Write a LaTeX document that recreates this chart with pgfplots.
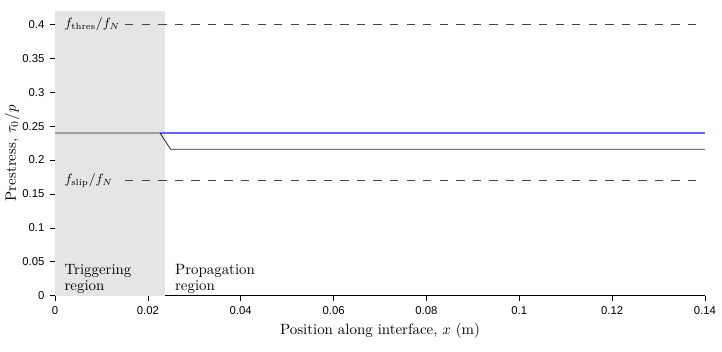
\documentclass[border=0pt]{standalone}
\usepackage{fontspec}
\setsansfont{Liberation Sans}
\usepackage{pgfplots}
\pgfplotsset{compat=1.18}
\definecolor{shade}{RGB}{229,229,229}
\definecolor{myblue}{RGB}{100,100,255}
\definecolor{dashgray}{RGB}{68,68,68}
\begin{document}
\begin{tikzpicture}
\begin{axis}[
  name=main,
  scale only axis,
  width=435.8pt, height=190.8pt,
  xmin=0, xmax=0.14, ymin=0, ymax=0.42,
  axis lines=left,
  axis line style={-},
  y axis line style={gray},
  xtick={0,0.02,0.04,0.06,0.08,0.1,0.12,0.14},
  ytick={0,0.05,0.1,0.15,0.2,0.25,0.3,0.35,0.4},
  xticklabels={0,0.02,0.04,0.06,0.08,0.1,0.12,0.14},
  yticklabels={0,0.05,0.1,0.15,0.2,0.25,0.3,0.35,0.4},
  tick align=outside,
  major tick length=3.6pt,
  tick style={black, line width=0.4pt},
  tick label style={font=\sffamily\fontsize{7.6}{9}\selectfont},
  xlabel={Position along interface, $x$ (m)},
  ylabel={Prestress, $\tau_0/p$},
  xlabel style={yshift=1pt},
  ylabel style={yshift=-5pt},
  clip=false,
]
\addplot[fill=shade, draw=none] coordinates {(0,0) (0.0237,0) (0.0237,0.42) (0,0.42)} -- cycle;
\addplot[dashgray, dash pattern=on 5.55pt off 5.55pt, line width=0.5pt] coordinates {(0.0151,0.4) (0.139,0.4)};
\addplot[dashgray, dash pattern=on 5.55pt off 5.55pt, line width=0.5pt] coordinates {(0.0151,0.17) (0.139,0.17)};
\addplot[draw=myblue, color=myblue, line width=0.7pt] coordinates {(0.0226,0.24) (0.14,0.24)};
\addplot[black!85, line width=0.55pt] coordinates {(0,0.24) (0.0226,0.24) (0.0249,0.216) (0.14,0.216)};
\addplot[black, line width=0.5pt] coordinates {(0.0237,0) (0.14,0)};
\node[anchor=west, inner sep=0pt, font=\fontsize{9}{11}\selectfont] at (axis cs:0.0020,0.4) {$f_{\mathrm{thres}}/f_N$};
\node[anchor=west, inner sep=0pt, font=\fontsize{9}{11}\selectfont] at (axis cs:0.0020,0.17) {$f_{\mathrm{slip}}/f_N$};
\node[anchor=south west, align=left, inner sep=0pt, font=\linespread{0.85}\selectfont] at (axis cs:0.0020,0.003) {Triggering\\region};
\node[anchor=south west, align=left, inner sep=0pt, font=\linespread{0.85}\selectfont] at (axis cs:0.0258,0.003) {Propagation\\region};
\end{axis}
\pgfresetboundingbox
\path (main.south west) ++(-36.9pt,-37.5pt) coordinate (bbA);
\path (main.north east) ++(11.4pt,7.4pt) coordinate (bbB);
\useasboundingbox (bbA) rectangle (bbB);
\end{tikzpicture}
\end{document}
